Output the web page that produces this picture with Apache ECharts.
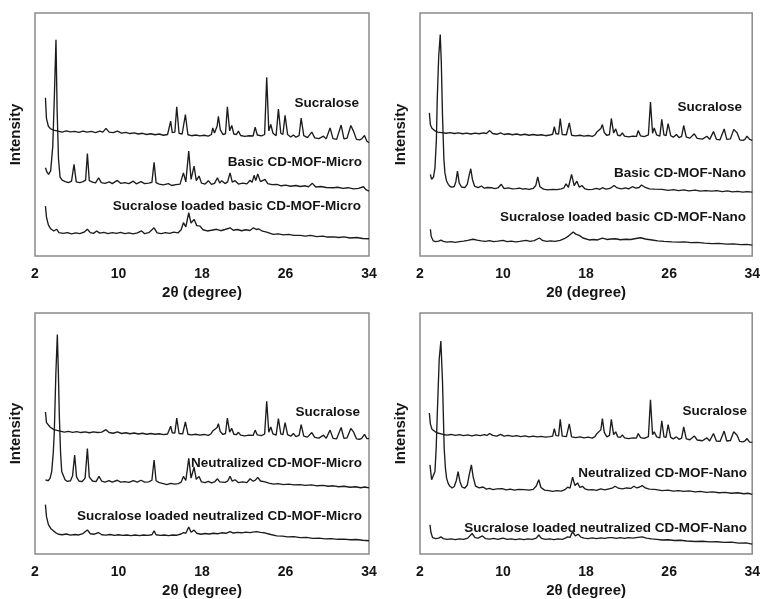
<!DOCTYPE html>
<html>
<head>
<meta charset="utf-8">
<script src="https://cdn.jsdelivr.net/npm/echarts@6/dist/echarts.min.js"></script>
<style>html,body{margin:0;padding:0;background:#fff;}#c{width:763px;height:599px;}</style>
</head>
<body>
<div id="c"></div>
<script>
// ---- Data (x = 2θ in degrees, y = offset intensity, a.u., panel scale 0–100) ----
const xTickLabels = [2, 10, 18, 26, 34];
const xAxisTitle = '2θ (degree)';
const yAxisTitle = 'Intensity';

const p1Names = ['Sucralose', 'Basic CD-MOF-Micro', 'Sucralose loaded basic CD-MOF-Micro'];
const p2Names = ['Sucralose', 'Basic CD-MOF-Nano', 'Sucralose loaded basic CD-MOF-Nano'];
const p3Names = ['Sucralose', 'Neutralized CD-MOF-Micro', 'Sucralose loaded neutralized CD-MOF-Micro'];
const p4Names = ['Sucralose', 'Neutralized CD-MOF-Nano', 'Sucralose loaded neutralized CD-MOF-Nano'];

const p1Sucralose = [[3.0,65.1],[3.1,56.5],[3.28,53.4],[3.5,52.3],[3.8,51.8],[4.2,51.4],[4.6,51.0],[5.0,51.5],[5.4,51.1],[5.8,51.3],[6.2,50.9],[6.6,51.4],[7.0,51.0],[7.4,51.3],[7.8,50.8],[8.2,51.4],[8.5,51.0],[8.8,52.5],[9.1,51.0],[9.5,50.8],[9.9,51.4],[10.3,50.6],[10.7,50.9],[11.1,50.4],[11.5,50.7],[11.9,50.2],[12.3,50.5],[12.7,50.0],[13.1,50.3],[13.5,49.9],[13.9,50.2],[14.3,49.7],[14.7,50.0],[14.85,50.4],[15.0,55.5],[15.15,50.8],[15.4,51.0],[15.58,61.4],[15.8,50.5],[16.1,50.2],[16.41,58.2],[16.65,49.9],[17.0,49.5],[17.4,49.8],[17.8,49.4],[18.2,49.7],[18.6,49.3],[18.9,50.0],[19.03,52.7],[19.2,50.6],[19.45,53.5],[19.57,57.5],[19.75,52.0],[20.0,50.0],[20.25,50.3],[20.43,61.4],[20.65,51.5],[20.85,53.7],[21.05,50.2],[21.3,50.0],[21.49,51.4],[21.7,49.6],[22.1,49.2],[22.5,49.5],[22.9,49.4],[23.09,53.0],[23.3,49.8],[23.7,49.4],[24.0,50.0],[24.2,73.6],[24.4,51.5],[24.59,54.1],[24.8,50.5],[25.1,49.5],[25.32,60.5],[25.55,50.5],[25.75,50.0],[25.96,57.9],[26.2,50.0],[26.5,49.0],[26.76,49.8],[27.0,48.9],[27.3,49.5],[27.5,56.8],[27.75,49.5],[28.1,48.7],[28.52,51.0],[28.8,48.6],[29.2,48.3],[29.64,49.3],[29.9,48.2],[30.27,52.7],[30.55,48.3],[30.9,48.0],[31.33,53.9],[31.6,48.2],[31.9,48.5],[32.26,53.7],[32.51,51.4],[32.8,48.0],[33.1,47.8],[33.3,48.2],[33.57,49.6],[33.8,47.2],[34.0,46.6]];

const p1Basic = [[3.0,36.3],[3.15,34.5],[3.3,33.6],[3.5,35],[3.7,45],[3.85,65],[4.01,89.0],[4.12,60],[4.25,40],[4.4,32.5],[4.6,31.2],[4.9,30.6],[5.2,30.2],[5.5,30.8],[5.74,37.7],[5.95,30.5],[6.3,30.2],[6.6,30.6],[6.85,31.2],[7.02,42.2],[7.2,31.0],[7.5,30.4],[7.8,30.1],[8.1,32.2],[8.35,30.2],[8.7,29.9],[9.12,30.5],[9.4,29.8],[9.89,31.1],[10.2,29.9],[10.6,30.2],[11.0,29.8],[11.42,30.8],[11.7,29.7],[12.16,30.6],[12.5,29.8],[12.9,30.0],[13.2,30.3],[13.41,38.6],[13.6,30.2],[13.9,29.6],[14.3,29.3],[14.78,29.8],[15.1,29.0],[15.5,29.4],[15.9,29.6],[16.22,34.2],[16.45,30.5],[16.73,43.2],[16.95,31.5],[17.24,37.0],[17.45,31.0],[17.72,32.9],[17.95,30.0],[18.3,29.6],[18.61,31.0],[18.9,29.5],[19.2,29.9],[19.48,32.2],[19.7,30.0],[19.89,31.0],[20.2,29.8],[20.45,30.5],[20.69,34.2],[20.9,30.4],[21.17,31.0],[21.5,29.6],[21.9,30.0],[22.3,29.7],[22.61,31.2],[22.8,30.3],[22.99,33.2],[23.15,31.0],[23.34,33.8],[23.6,30.6],[24.04,31.5],[24.3,29.8],[24.7,29.4],[25.16,29.5],[25.6,28.9],[26.0,29.2],[26.5,28.7],[27.0,29.0],[27.4,28.6],[27.9,28.9],[28.2,28.5],[28.58,29.9],[28.9,28.4],[29.4,28.6],[29.9,28.2],[30.59,28.1],[31.0,28.3],[31.5,27.8],[32.0,28.1],[32.5,27.6],[33.0,27.8],[33.47,28.5],[33.7,27.3],[34.0,26.7]];

const p1Loaded = [[3.0,20.5],[3.1,16.0],[3.28,12.8],[3.5,11.2],[3.8,10.3],[4.08,11.0],[4.3,9.6],[4.7,9.3],[5.1,9.6],[5.5,9.1],[5.9,9.5],[6.3,9.2],[6.7,9.8],[7.02,11.0],[7.3,9.6],[7.6,9.3],[7.91,10.3],[8.2,9.4],[8.6,9.7],[9.0,9.2],[9.4,9.6],[9.8,9.3],[10.2,9.7],[10.6,9.2],[11.0,9.5],[11.4,9.1],[11.8,9.5],[12.22,10.3],[12.5,9.2],[12.9,9.6],[13.41,11.6],[13.7,9.5],[14.1,9.2],[14.5,9.6],[14.9,9.3],[15.3,9.8],[15.7,9.5],[16.0,10.8],[16.22,13.7],[16.45,12.0],[16.73,17.8],[16.95,13.5],[17.24,15.1],[17.5,12.5],[17.81,12.3],[18.1,10.8],[18.5,10.3],[18.9,10.6],[19.41,11.0],[19.8,10.4],[20.2,10.9],[20.69,11.6],[21.0,10.6],[21.4,10.9],[21.8,10.4],[22.2,10.8],[22.6,10.5],[22.93,11.6],[23.2,10.9],[23.41,11.2],[23.8,10.2],[24.2,9.8],[24.84,8.9],[25.3,9.1],[25.8,8.7],[26.3,8.9],[26.8,8.5],[27.4,8.5],[27.9,8.2],[28.4,8.5],[29.0,8.0],[29.6,8.2],[30.0,7.8],[30.59,7.9],[31.1,7.6],[31.6,7.9],[32.2,7.4],[32.8,7.6],[33.4,7.2],[34.0,7.1]];

const p2Sucralose = [[2.9,58.9],[3.0,54.0],[3.15,52.6],[3.4,51.6],[3.7,51.0],[4.1,50.8],[4.5,50.5],[4.9,50.8],[5.3,50.4],[5.7,50.7],[6.1,50.3],[6.5,50.6],[6.9,50.2],[7.3,50.6],[7.7,50.3],[8.1,50.7],[8.4,50.4],[8.71,51.6],[9.0,50.4],[9.4,50.1],[9.76,50.7],[10.1,50.0],[10.5,50.3],[10.9,49.9],[11.3,50.2],[11.7,49.8],[12.1,50.1],[12.5,49.7],[12.9,50.0],[13.3,49.7],[13.7,49.9],[14.1,49.5],[14.5,49.8],[14.78,50.1],[14.94,53.2],[15.1,50.3],[15.35,50.2],[15.51,56.6],[15.7,50.0],[16.1,49.9],[16.38,54.8],[16.6,49.7],[17.0,49.4],[17.4,49.7],[17.8,49.3],[18.2,49.6],[18.6,49.2],[18.85,49.8],[19.03,51.0],[19.2,50.2],[19.42,52.5],[19.57,54.1],[19.75,50.8],[20.0,49.6],[20.25,50.0],[20.43,56.6],[20.65,50.6],[20.85,52.3],[21.05,49.7],[21.3,49.5],[21.49,50.7],[21.7,49.3],[22.1,49.0],[22.5,49.3],[22.85,49.2],[23.02,51.6],[23.25,49.4],[23.6,49.1],[24.0,49.8],[24.2,63.4],[24.4,50.5],[24.56,52.7],[24.8,49.8],[25.1,49.3],[25.29,56.2],[25.5,49.8],[25.7,49.5],[25.9,54.5],[26.15,49.5],[26.4,48.9],[26.7,50.0],[26.95,48.7],[27.2,49.2],[27.4,53.7],[27.65,48.9],[28.0,48.5],[28.42,50.3],[28.7,48.4],[29.2,48.1],[29.64,49.3],[29.9,48.0],[30.27,51.2],[30.55,48.0],[30.9,47.8],[31.3,52.3],[31.55,48.0],[31.9,48.2],[32.22,52.1],[32.54,50.7],[32.8,47.8],[33.1,47.6],[33.3,48.0],[33.5,49.3],[33.75,48.0],[34.0,47.6]];

const p2Basic = [[3.0,33.6],[3.12,31.5],[3.3,32.5],[3.44,36.3],[3.58,48],[3.66,64.4],[3.8,82],[3.95,91.1],[4.05,80],[4.17,57.5],[4.3,40],[4.4,34.2],[4.55,31.0],[4.72,29.5],[4.9,28.6],[5.1,28.3],[5.3,28.6],[5.45,30.5],[5.61,34.9],[5.78,30.0],[6.0,28.4],[6.3,28.1],[6.55,29.5],[6.75,33.5],[6.89,35.9],[7.05,31.5],[7.25,28.8],[7.6,28.1],[7.91,28.8],[8.2,27.9],[8.5,28.2],[8.87,28.1],[9.2,27.7],[9.5,28.0],[9.83,29.5],[10.1,27.7],[10.5,28.0],[10.9,27.6],[11.27,27.7],[11.6,27.9],[11.9,27.5],[12.13,27.7],[12.5,27.4],[12.9,27.8],[13.15,29.0],[13.34,32.6],[13.55,28.5],[13.9,27.5],[14.3,27.2],[14.78,27.4],[15.2,27.3],[15.6,27.6],[15.85,28.0],[16.06,29.7],[16.3,28.3],[16.6,33.6],[16.85,29.0],[17.11,30.8],[17.35,28.3],[17.59,29.0],[17.9,27.6],[18.2,27.3],[18.61,27.4],[19.0,27.8],[19.3,27.4],[19.57,28.1],[19.9,27.5],[20.3,27.8],[20.69,29.0],[21.0,28.0],[21.4,27.6],[21.8,28.0],[22.1,27.6],[22.45,28.5],[22.8,27.9],[23.1,28.2],[23.34,29.2],[23.7,28.2],[24.1,27.6],[24.6,27.5],[25.32,27.4],[25.9,27.0],[26.4,27.3],[26.9,26.9],[27.4,27.2],[27.9,26.8],[28.52,27.1],[29.0,26.7],[29.5,26.9],[30.12,26.7],[30.6,26.9],[31.1,26.5],[31.6,26.8],[32.1,26.4],[32.6,26.6],[33.1,26.3],[33.5,26.5],[34.0,26.3]];

const p2Loaded = [[3.0,11.0],[3.08,8.0],[3.28,6.2],[3.5,5.9],[3.8,6.1],[4.01,6.5],[4.25,6.0],[4.6,5.7],[5.0,5.9],[5.4,5.6],[5.8,5.9],[6.2,6.1],[6.6,6.4],[7.11,6.9],[7.5,6.5],[7.9,6.2],[8.3,6.0],[8.7,6.3],[9.1,5.9],[9.5,6.1],[9.99,6.4],[10.4,5.9],[10.8,6.1],[11.2,5.8],[11.6,6.0],[12.22,6.4],[12.6,6.0],[13.0,6.3],[13.5,7.4],[13.8,6.4],[14.2,6.0],[14.6,6.2],[15.0,6.0],[15.5,6.4],[15.9,7.1],[16.3,8.2],[16.76,9.9],[17.0,9.0],[17.34,8.5],[17.7,7.4],[18.29,6.6],[18.7,6.8],[19.1,6.6],[19.57,7.4],[20.0,6.8],[20.4,7.0],[20.85,7.1],[21.3,6.7],[21.8,6.9],[22.3,6.8],[22.8,7.2],[23.25,7.5],[23.7,7.0],[24.36,6.6],[24.9,6.2],[25.5,6.0],[26.28,5.8],[26.9,5.7],[27.5,5.8],[28.1,5.5],[28.7,5.6],[29.4,5.3],[30.12,5.1],[30.8,5.2],[31.5,4.9],[32.2,5.0],[32.9,4.7],[33.5,4.8],[34.0,4.5]];

const p3Sucralose = [[3.0,58.9],[3.1,54.5],[3.44,52.7],[3.8,51.6],[4.4,51.0],[4.8,50.6],[5.2,50.9],[5.6,50.5],[6.0,50.8],[6.4,50.4],[6.8,50.7],[7.2,50.3],[7.6,50.7],[8.0,50.4],[8.4,50.6],[8.8,51.6],[9.1,50.4],[9.5,50.1],[9.9,50.7],[10.3,50.0],[10.7,50.3],[11.1,49.9],[11.5,50.2],[11.9,49.8],[12.3,50.1],[12.7,49.7],[13.1,50.0],[13.5,49.7],[13.9,49.9],[14.3,49.5],[14.7,49.8],[14.85,50.1],[15.0,53.0],[15.15,50.3],[15.4,50.2],[15.58,56.4],[15.8,50.0],[16.15,49.9],[16.41,54.8],[16.65,49.7],[17.0,49.4],[17.4,49.7],[17.8,49.3],[18.2,49.6],[18.6,49.2],[18.85,49.8],[19.03,51.0],[19.2,50.2],[19.45,52.5],[19.57,54.1],[19.75,50.8],[20.0,49.6],[20.25,50.0],[20.43,56.4],[20.65,50.6],[20.85,52.1],[21.05,49.7],[21.3,49.5],[21.49,50.5],[21.7,49.3],[22.1,49.0],[22.5,49.3],[22.9,49.2],[23.09,51.4],[23.3,49.4],[23.7,49.1],[24.0,49.8],[24.2,63.4],[24.4,50.5],[24.59,52.7],[24.8,49.8],[25.1,49.3],[25.32,56.2],[25.55,49.8],[25.75,49.5],[25.96,54.5],[26.2,49.5],[26.5,48.9],[26.76,50.0],[27.0,48.7],[27.3,49.2],[27.5,53.7],[27.75,48.9],[28.1,48.5],[28.52,50.4],[28.8,48.4],[29.2,48.1],[29.64,49.3],[29.9,48.0],[30.27,51.4],[30.55,48.0],[30.9,47.8],[31.33,52.5],[31.6,48.0],[31.9,48.2],[32.26,52.1],[32.51,50.7],[32.8,47.8],[33.1,47.6],[33.3,48.0],[33.57,49.6],[33.8,47.9],[34.0,47.9]];

const p3Neutral = [[3.0,30.8],[3.28,30.4],[3.45,31.5],[3.6,34.2],[3.75,42],[3.85,50.7],[4.0,75],[4.14,91.1],[4.24,75],[4.33,57.5],[4.45,42],[4.56,34.2],[4.88,30.8],[5.1,30.1],[5.4,30.4],[5.6,32.5],[5.8,41.1],[5.98,32.0],[6.2,30.3],[6.5,30.0],[6.8,31.5],[7.02,43.8],[7.2,32.0],[7.5,30.3],[7.85,30.0],[8.13,32.2],[8.4,30.2],[8.7,29.8],[9.09,30.4],[9.4,29.8],[9.89,30.6],[10.2,29.8],[10.6,30.0],[11.0,29.7],[11.42,30.4],[11.8,29.8],[12.16,30.6],[12.5,29.8],[12.9,29.9],[13.2,30.6],[13.41,39.0],[13.6,30.4],[13.9,29.6],[14.3,29.2],[14.62,28.8],[15.0,29.3],[15.4,29.0],[15.74,29.2],[16.0,29.8],[16.22,32.2],[16.45,30.5],[16.73,39.7],[16.95,31.5],[17.24,36.0],[17.45,31.0],[17.72,32.2],[17.95,29.9],[18.3,29.6],[18.61,30.1],[18.9,29.5],[19.2,29.9],[19.48,31.2],[19.7,29.9],[19.89,30.1],[20.2,29.7],[20.45,30.2],[20.69,32.2],[20.9,30.2],[21.17,30.8],[21.5,29.6],[21.9,29.9],[22.3,29.6],[22.61,31.2],[22.9,30.2],[23.1,30.6],[23.34,31.8],[23.6,30.3],[24.04,29.9],[24.4,29.4],[24.84,29.0],[25.3,29.2],[25.8,28.8],[26.3,29.0],[26.8,28.7],[27.4,28.8],[27.9,28.5],[28.5,28.7],[29.0,28.3],[29.6,28.5],[30.1,28.1],[30.59,28.3],[31.1,27.9],[31.6,28.1],[32.2,27.7],[32.7,27.9],[33.2,27.5],[33.6,27.8],[34.0,27.4]];

const p3Loaded = [[3.0,20.5],[3.1,15.5],[3.28,12.3],[3.5,10.6],[3.76,9.6],[4.0,8.8],[4.24,8.2],[4.6,8.0],[5.0,8.3],[5.4,7.8],[5.8,8.1],[6.2,7.9],[6.6,8.5],[7.02,10.0],[7.3,8.4],[7.7,8.2],[8.07,8.9],[8.4,8.0],[8.8,7.8],[9.2,8.1],[9.6,7.7],[10.0,8.0],[10.4,7.7],[10.8,7.9],[11.2,7.6],[11.6,7.9],[12.0,7.6],[12.4,7.9],[12.8,7.7],[13.2,8.0],[13.41,9.6],[13.6,8.0],[14.0,7.7],[14.4,7.9],[14.8,7.6],[15.2,7.9],[15.6,7.8],[16.0,8.3],[16.22,8.9],[16.45,8.6],[16.73,11.2],[16.95,9.0],[17.24,9.9],[17.5,8.6],[17.9,8.2],[18.3,8.5],[18.7,8.3],[19.1,8.6],[19.5,8.4],[19.9,8.8],[20.3,8.6],[20.69,9.3],[21.0,8.7],[21.4,9.0],[21.8,8.8],[22.2,9.1],[22.6,8.9],[23.0,9.2],[23.25,9.3],[23.6,9.0],[24.0,8.8],[24.5,8.2],[25.16,7.5],[25.7,7.4],[26.2,7.1],[26.8,7.2],[27.4,6.8],[28.0,6.9],[28.6,6.5],[29.2,6.6],[29.8,6.3],[30.4,6.4],[31.0,6.1],[31.6,6.2],[32.2,5.9],[32.8,6.0],[33.4,5.7],[34.0,5.5]];

const p4Sucralose = [[2.9,58.5],[3.0,54.0],[3.15,51.8],[3.28,51.4],[3.6,50.3],[4.24,49.6],[4.6,49.3],[5.0,49.6],[5.4,49.2],[5.8,49.5],[6.2,49.1],[6.6,49.4],[7.0,49.0],[7.4,49.4],[7.8,49.1],[8.2,49.5],[8.45,49.2],[8.71,50.0],[9.0,49.2],[9.4,48.9],[9.76,49.6],[10.1,48.9],[10.5,49.2],[10.9,48.8],[11.3,49.1],[11.7,48.7],[12.1,49.0],[12.5,48.6],[12.9,48.9],[13.3,48.6],[13.7,48.8],[14.1,48.5],[14.5,48.7],[14.78,48.9],[14.94,52.0],[15.1,49.1],[15.35,49.0],[15.51,55.9],[15.7,48.9],[16.1,48.7],[16.38,54.0],[16.6,48.6],[17.0,48.3],[17.4,48.6],[17.8,48.2],[18.2,48.5],[18.6,48.1],[18.85,48.7],[19.03,49.9],[19.2,49.2],[19.42,51.5],[19.57,56.2],[19.75,50.5],[20.0,48.6],[20.25,49.2],[20.43,55.9],[20.65,49.5],[20.85,50.7],[21.05,48.6],[21.3,48.4],[21.49,49.4],[21.7,48.2],[22.1,47.9],[22.5,48.2],[22.85,48.1],[23.02,50.0],[23.25,48.3],[23.6,48.0],[24.0,48.7],[24.2,64.0],[24.4,49.5],[24.56,50.7],[24.8,48.6],[25.1,48.2],[25.29,55.3],[25.5,48.6],[25.7,48.4],[25.9,53.7],[26.15,48.4],[26.4,47.8],[26.7,48.6],[26.95,47.6],[27.2,48.1],[27.4,52.7],[27.65,47.8],[28.0,47.4],[28.42,49.0],[28.7,47.3],[29.2,47.0],[29.64,48.2],[29.9,46.9],[30.27,50.0],[30.55,46.9],[30.9,46.7],[31.3,51.0],[31.55,46.9],[31.9,47.1],[32.22,50.7],[32.54,49.3],[32.8,46.7],[33.1,46.5],[33.3,46.9],[33.5,47.9],[33.75,46.4],[34.0,46.3]];

const p4Neutral = [[2.96,37.0],[3.12,30.8],[3.3,31.5],[3.44,34.2],[3.56,44],[3.66,57.5],[3.85,80.8],[4.01,88.4],[4.17,71.2],[4.33,43.8],[4.45,35.5],[4.56,31.5],[4.72,29.2],[4.88,28.1],[5.1,27.4],[5.3,28.0],[5.5,30.5],[5.67,34.2],[5.85,30.0],[6.05,27.8],[6.3,27.3],[6.55,28.5],[6.75,33.0],[6.95,37.0],[7.12,32.0],[7.35,28.2],[7.7,27.4],[8.07,27.8],[8.4,26.9],[8.7,27.2],[9.03,26.7],[9.4,27.0],[9.92,27.1],[10.3,26.6],[10.7,26.9],[11.1,26.5],[11.5,26.8],[12.06,26.7],[12.5,26.5],[12.9,26.8],[13.2,28.2],[13.44,30.8],[13.65,27.6],[14.0,26.5],[14.4,26.3],[14.78,26.0],[15.2,26.3],[15.6,26.1],[15.95,26.7],[16.22,27.7],[16.45,27.3],[16.7,31.9],[16.92,28.4],[17.18,29.5],[17.4,27.6],[17.65,28.1],[17.9,27.0],[18.2,26.6],[18.61,26.7],[19.0,26.4],[19.41,27.0],[19.8,26.6],[20.2,27.0],[20.5,27.3],[20.79,28.1],[21.1,27.3],[21.5,27.0],[21.9,27.4],[22.3,27.2],[22.61,28.1],[22.9,27.4],[23.15,27.8],[23.41,28.4],[23.7,27.4],[24.1,26.9],[24.6,26.8],[25.32,26.3],[25.9,26.5],[26.4,26.1],[26.9,26.3],[27.4,26.0],[27.9,26.2],[28.52,25.8],[29.0,26.0],[29.6,25.6],[30.2,25.8],[30.8,25.4],[31.4,25.6],[32.0,25.2],[32.6,25.4],[33.2,25.0],[33.6,25.2],[34.0,24.7]];

const p4Loaded = [[2.96,12.1],[3.05,9.0],[3.21,6.8],[3.5,6.4],[3.8,6.6],[4.01,7.1],[4.25,6.4],[4.6,6.1],[5.0,6.3],[5.4,6.0],[5.8,6.3],[6.2,6.1],[6.6,6.6],[7.02,8.5],[7.3,6.8],[7.6,6.6],[8.01,7.5],[8.3,6.4],[8.7,6.2],[9.1,6.5],[9.5,6.1],[9.99,6.6],[10.4,6.1],[10.8,6.3],[11.2,6.0],[11.6,6.3],[12.0,6.0],[12.4,6.3],[12.8,6.1],[13.2,6.6],[13.44,7.9],[13.7,6.5],[14.1,6.1],[14.5,6.3],[14.9,6.0],[15.3,6.3],[15.7,6.1],[16.0,6.6],[16.22,7.1],[16.45,6.9],[16.7,9.3],[16.95,7.5],[17.24,8.2],[17.5,7.0],[17.81,6.6],[18.2,6.4],[18.6,6.7],[19.0,6.4],[19.4,6.7],[19.8,6.5],[20.2,6.8],[20.53,6.8],[20.9,6.5],[21.3,6.8],[21.7,6.5],[22.1,6.8],[22.5,6.6],[23.0,6.9],[23.41,7.1],[23.8,6.6],[24.3,6.3],[24.8,6.1],[25.32,5.8],[25.9,5.9],[26.5,5.6],[27.1,5.7],[27.7,5.4],[28.52,5.2],[29.2,5.3],[29.9,5.0],[30.6,5.1],[31.3,4.8],[32.0,4.9],[32.7,4.5],[33.4,4.6],[34.0,4.1]];

// ---- Layout (pixels) ----
const grids = [
  {left: 35, top: 13, width: 334, height: 243},
  {left: 420, top: 13, width: 334, height: 243},
  {left: 35, top: 313, width: 334, height: 243},
  {left: 420, top: 313, width: 334, height: 243}
];
const panelTraces = [
  [p1Sucralose, p1Basic, p1Loaded],
  [p2Sucralose, p2Basic, p2Loaded],
  [p3Sucralose, p3Neutral, p3Loaded],
  [p4Sucralose, p4Neutral, p4Loaded]
];
const panelNames = [p1Names, p2Names, p3Names, p4Names];
// label anchor (right edge x, vertical centre y) in pixels
const labelPos = [
  [[359, 103], [362, 162], [361, 206]],
  [[742, 107], [746, 173], [746, 217]],
  [[360, 412], [362, 463], [362, 516]],
  [[747, 411], [747, 473], [747, 528]]
];

const FONT = '"Liberation Sans", Arial, sans-serif';
const INK = '#141414';

const option = {
  animation: false,
  backgroundColor: '#fff',
  grid: grids.map(g => Object.assign({show: true, borderColor: '#8a8a8a', borderWidth: 1.5, backgroundColor: 'transparent'}, g)),
  xAxis: grids.map((g, i) => ({
    type: 'value', gridIndex: i, min: xTickLabels[0], max: xTickLabels[xTickLabels.length - 1], interval: 8,
    axisLine: {show: false}, axisTick: {show: false}, splitLine: {show: false},
    axisLabel: {color: INK, fontFamily: FONT, fontWeight: 'bold', fontSize: 14, margin: 11},
    name: xAxisTitle, nameLocation: 'middle', nameGap: 29,
    nameTextStyle: {color: INK, fontFamily: FONT, fontWeight: 'bold', fontSize: 15}
  })),
  yAxis: grids.map((g, i) => ({
    type: 'value', gridIndex: i, min: 0, max: 100,
    axisLine: {show: false}, axisTick: {show: false}, splitLine: {show: false}, axisLabel: {show: false},
    name: yAxisTitle, nameLocation: 'middle', nameGap: 12, nameRotate: 90,
    nameTextStyle: {color: INK, fontFamily: FONT, fontWeight: 'bold', fontSize: 15}
  })),
  series: [],
  graphic: []
};

panelTraces.forEach((traces, i) => {
  traces.forEach((d, j) => {
    option.series.push({
      type: 'line', name: panelNames[i][j], xAxisIndex: i, yAxisIndex: i, data: d,
      showSymbol: false, symbol: 'none', smooth: false,
      lineStyle: {color: '#1c1c1c', width: 1.35}
    });
    option.graphic.push({
      type: 'text', x: labelPos[i][j][0], y: labelPos[i][j][1],
      style: {text: panelNames[i][j], fill: INK, font: 'bold 13.5px ' + FONT, textAlign: 'right', textVerticalAlign: 'middle'}
    });
  });
});

const chart = echarts.init(document.getElementById('c'), null, {renderer: 'canvas'});
chart.setOption(option);
</script>
</body>
</html>
